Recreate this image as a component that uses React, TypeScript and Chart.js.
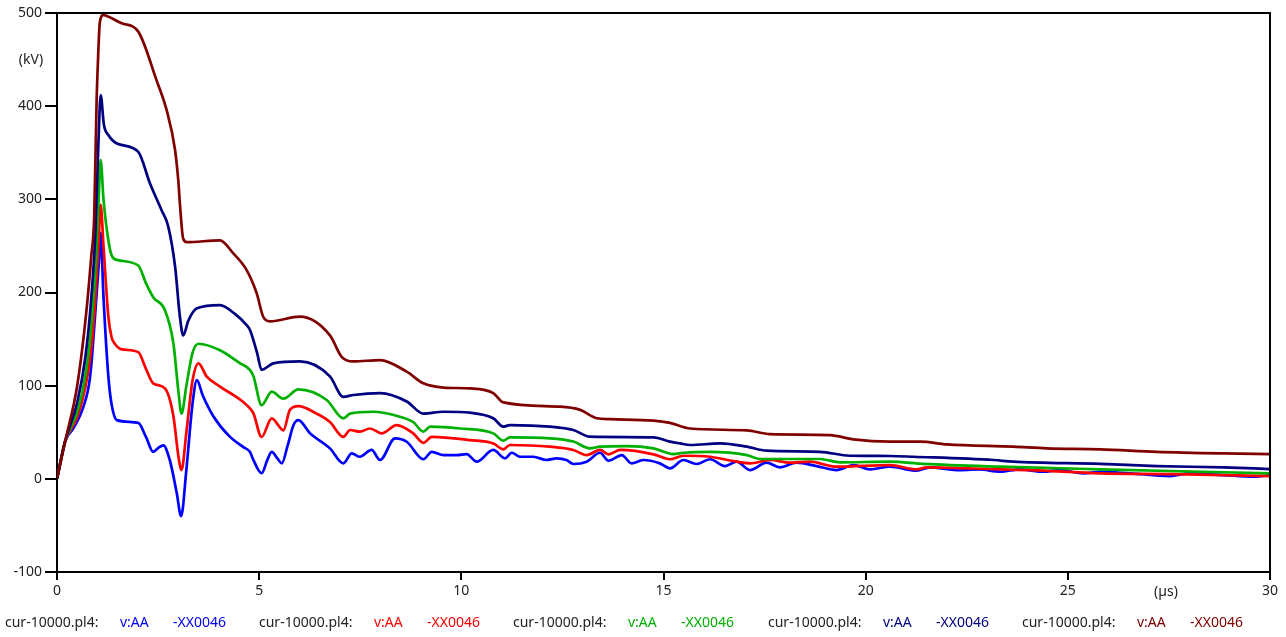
import React, { useEffect, useRef } from "react";
import { Chart, registerables } from "chart.js";

Chart.register(...registerables);

// ---- data (time in µs, voltage in kV) ----
const blueT = [0, 0.2, 0.4, 0.65, 0.82, 0.94, 1.04, 1.08, 1.15, 1.27, 1.35, 1.48, 2.01, 2.2, 2.38, 2.5, 2.63, 2.79, 2.96, 3.07, 3.2, 3.35, 3.46, 3.6, 3.87, 4.28, 4.61, 4.77, 4.86, 5.06, 5.2, 5.31, 5.45, 5.56, 5.7, 5.85, 5.97, 6.26, 6.75, 7.08, 7.29, 7.49, 7.78, 7.99, 8.36, 8.65, 9.06, 9.27, 9.56, 9.89, 10.13, 10.38, 10.79, 11.08, 11.25, 11.45, 11.78, 12.11, 12.36, 12.6, 12.77, 13.1, 13.43, 13.64, 13.97, 14.21, 14.5, 14.91, 15.16, 15.49, 15.82, 16.15, 16.52, 16.81, 17.14, 17.55, 17.88, 18.29, 18.79, 19.28, 19.7, 20.11, 20.6, 21.26, 21.59, 22.25, 22.8, 23.33, 23.82, 24.4, 24.81, 25.39, 25.8, 26.54, 27.53, 28.02, 28.85, 29.6, 30];
const blueV = [0, 40, 54, 77, 110, 174, 235, 264, 195, 110, 80, 63, 60, 45, 29, 33, 36, 20, -15, -40, 10, 80, 106, 90, 67, 45, 34, 29, 20, 6, 20, 29, 22, 16.6, 35, 57.7, 63, 48.8, 32.7, 16.6, 27.4, 23.7, 31, 20.2, 43.5, 39.8, 21, 29, 25.5, 25.5, 26.6, 18.4, 31, 22, 28, 23.7, 23.7, 20.2, 22, 20.2, 15.9, 18.4, 28, 19.4, 25.5, 16.6, 20.2, 16.6, 11.3, 20.2, 15.9, 21, 13.7, 18.4, 9.4, 17.3, 12.3, 17.3, 13.7, 9.4, 14.8, 10.2, 13, 8.7, 12.3, 9.4, 10, 7.6, 10.2, 7.6, 9.4, 5.9, 7.6, 5.9, 3, 5.9, 4, 2.3, 4];

const redT = [0, 0.2, 0.5, 0.7, 0.85, 0.95, 1.03, 1.08, 1.15, 1.27, 1.35, 1.43, 1.6, 2.01, 2.2, 2.38, 2.67, 2.88, 3.0, 3.08, 3.2, 3.35, 3.5, 3.7, 4.03, 4.53, 4.77, 4.86, 5.06, 5.31, 5.6, 5.76, 5.97, 6.42, 6.75, 7.08, 7.25, 7.49, 7.74, 8.03, 8.4, 8.81, 9.06, 9.27, 10.21, 10.79, 11.04, 11.2, 12.19, 12.77, 13.1, 13.43, 13.64, 13.93, 14.75, 15.16, 15.49, 16.15, 16.81, 17.14, 17.63, 18.13, 18.62, 19.28, 20.6, 21.26, 21.51, 23.33, 24.07, 25.8, 27.6, 30];
const redV = [0, 40, 66, 98, 140, 195, 255, 294, 250, 174, 152, 145, 139, 136, 118, 102.5, 97, 67, 25, 9.4, 50, 105, 124, 110, 99, 85, 75.6, 70, 45, 65, 52, 74, 78, 70, 61, 45, 52.4, 50.6, 54, 48.8, 57.7, 48.8, 38.7, 45, 41.6, 38, 31.7, 36.3, 34.5, 31, 25.5, 31, 26.3, 31, 26.3, 21, 24.8, 23.7, 18.4, 16.6, 20.2, 17.3, 18.4, 13, 14.8, 10.2, 12.3, 10.2, 9.4, 5.9, 5, 3];

const greenT = [0, 0.2, 0.5, 0.7, 0.85, 0.95, 1.03, 1.08, 1.15, 1.27, 1.35, 1.48, 2.01, 2.2, 2.38, 2.67, 2.88, 3.0, 3.08, 3.2, 3.35, 3.5, 4.03, 4.53, 4.77, 4.86, 5.06, 5.31, 5.6, 5.97, 6.67, 7.08, 7.25, 7.82, 8.48, 8.81, 9.06, 9.23, 9.97, 10.79, 11.04, 11.2, 12.19, 12.77, 13.18, 13.43, 14.09, 14.75, 15.24, 15.5, 16.15, 17.06, 17.39, 18.87, 19.37, 20.6, 21.43, 23.33, 25.8, 30];
const greenV = [0, 40, 72, 110, 165, 225, 300, 342, 300, 256, 240, 235, 229, 210, 195, 181, 145, 95, 70, 100, 135, 145, 138, 124, 117, 110, 79, 93.5, 86, 96, 84.6, 65, 70, 72, 66.7, 61, 50.6, 56, 54, 48.8, 41, 44.5, 43.5, 40, 32.7, 34.5, 35.2, 32.7, 26.5, 28, 29, 25.5, 21.3, 21.3, 17.7, 18.4, 16, 13, 10.2, 5.9];

const navyT = [0, 0.2, 0.5, 0.7, 0.85, 0.95, 1.02, 1.08, 1.16, 1.27, 1.48, 2.01, 2.3, 2.59, 2.75, 2.92, 3.04, 3.12, 3.25, 3.46, 4.03, 4.4, 4.69, 4.77, 4.95, 5.06, 5.35, 6.01, 6.75, 7.08, 7.33, 7.99, 8.65, 9.06, 9.56, 10.21, 10.79, 11.04, 11.2, 12.19, 12.77, 13.18, 14.75, 15.16, 15.41, 15.66, 16.4, 17.06, 17.55, 18.87, 19.61, 20.6, 21.18, 23.16, 23.65, 25.8, 27.2, 28.85, 30];
const navyV = [0, 40, 82, 130, 195, 265, 355, 412, 380, 369, 360, 351, 317, 288, 271, 228, 174, 154, 170, 183, 186.5, 177, 165, 160, 135, 117, 124, 126, 110, 88, 90, 92, 83, 70, 72, 71, 65, 56, 57.7, 56, 52.4, 45.2, 44.5, 40, 38, 36.3, 38, 34.5, 30.2, 29, 24.8, 24.5, 23.7, 20.2, 18.4, 16, 13.7, 12.3, 10.5];

const darkRedT = [0, 0.2, 0.5, 0.73, 0.85, 0.92, 0.98, 1.01, 1.06, 1.15, 1.22, 1.6, 2.01, 2.46, 2.71, 2.92, 3.0, 3.04, 3.12, 3.21, 4.03, 4.36, 4.69, 4.94, 5.1, 5.27, 6.01, 6.75, 7.04, 7.33, 7.99, 8.65, 9.06, 9.56, 10.21, 10.79, 11.04, 12.44, 12.94, 13.35, 13.68, 14.75, 15.16, 15.66, 17.06, 17.63, 19.12, 19.7, 20.6, 21.35, 22.0, 23.65, 24.48, 25.8, 27.2, 28.85, 30];
const darkRedV = [0, 40, 100, 181, 240, 281, 406, 445, 490, 498, 497, 489, 480, 428, 396, 353, 320, 295, 258, 254, 256, 242, 224, 199, 174, 169, 174, 154, 131, 126, 127.5, 115, 102.5, 98, 97, 92, 82, 77.4, 74, 65, 64, 62.4, 60, 54, 52, 48, 47, 42.4, 40, 40, 37, 34.5, 32.7, 31.7, 29, 27.3, 26.6];

const seriesColors = ["#0000FF", "#FF0000", "#00B000", "#000080", "#800000"];
const seriesFile = ["cur-10000.pl4:", "cur-10000.pl4:", "cur-10000.pl4:", "cur-10000.pl4:", "cur-10000.pl4:"];
const seriesVar = ["v:AA", "v:AA", "v:AA", "v:AA", "v:AA"];
const seriesNode = ["-XX0046", "-XX0046", "-XX0046", "-XX0046", "-XX0046"];

const FONT = "'Noto Sans', 'DejaVu Sans', sans-serif";

const frameAndLabels = {
  id: "frameAndLabels",
  afterDraw(chart: any) {
    const { ctx, chartArea } = chart;
    ctx.save();
    ctx.strokeStyle = "#000";
    ctx.lineWidth = 2;
    ctx.beginPath();
    ctx.moveTo(chartArea.left - 12, chartArea.top);
    ctx.lineTo(chartArea.right, chartArea.top);
    ctx.lineTo(chartArea.right, chartArea.bottom + 8);
    ctx.stroke();

    ctx.fillStyle = "#222";
    ctx.font = `14px ${FONT}`;
    ctx.textBaseline = "middle";
    ctx.textAlign = "center";
    ctx.fillText("(kV)", 31, 60);
    ctx.fillText("(µs)", 1166, 592);

    ctx.textAlign = "left";
    const starts = [5, 259, 513, 768, 1022];
    for (let i = 0; i < 5; i++) {
      const x = starts[i];
      ctx.fillStyle = "#222";
      ctx.fillText(seriesFile[i], x, 623);
      ctx.fillStyle = seriesColors[i];
      ctx.fillText(seriesVar[i], x + 115, 623);
      ctx.fillText(seriesNode[i], x + 168, 623);
    }
    ctx.restore();
  },
};

export default function App() {
  const ref = useRef<HTMLCanvasElement>(null);
  useEffect(() => {
    if (!ref.current) return;
    const ts = [blueT, redT, greenT, navyT, darkRedT];
    const vs = [blueV, redV, greenV, navyV, darkRedV];
    const chart = new Chart(ref.current, {
      type: "line",
      data: {
        datasets: ts.map((t, i) => ({
          label: seriesVar[i],
          data: t.map((x, j) => ({ x, y: vs[i][j] })),
          borderColor: seriesColors[i],
          borderWidth: 2.7,
          pointRadius: 0,
          cubicInterpolationMode: "monotone" as const,
          borderJoinStyle: "round" as const,
          fill: false,
          order: 4 - i,
        })),
      },
      options: {
        responsive: false,
        animation: false,
        layout: { padding: { left: 0, right: 16, top: 13, bottom: 0 } },
        plugins: { legend: { display: false }, tooltip: { enabled: false } },
        scales: {
          x: {
            type: "linear",
            min: 0,
            max: 30,
            afterFit(scale: any) {
              scale.height = 65;
            },
            border: { display: true, color: "#000", width: 2 },
            grid: { drawOnChartArea: false, drawTicks: true, tickLength: 8, color: "#000", lineWidth: 2 },
            ticks: { stepSize: 5, maxRotation: 0, autoSkip: false, padding: 3, color: "#222", font: { family: FONT, size: 14 } },
          },
          y: {
            type: "linear",
            min: -100,
            max: 500,
            afterFit(scale: any) {
              scale.width = 57;
            },
            border: { display: true, color: "#000", width: 2 },
            grid: { drawOnChartArea: false, drawTicks: true, tickLength: 12, color: "#000", lineWidth: 2 },
            ticks: { stepSize: 100, padding: 3, color: "#222", font: { family: FONT, size: 14 } },
          },
        },
      },
      plugins: [frameAndLabels],
    });
    return () => chart.destroy();
  }, []);
  return (
    <div style={{ position: "absolute", left: 0, top: 0, width: 1286, height: 637, background: "#fff" }}>
      <canvas ref={ref} width={1286} height={637} style={{ display: "block" }} />
    </div>
  );
}
